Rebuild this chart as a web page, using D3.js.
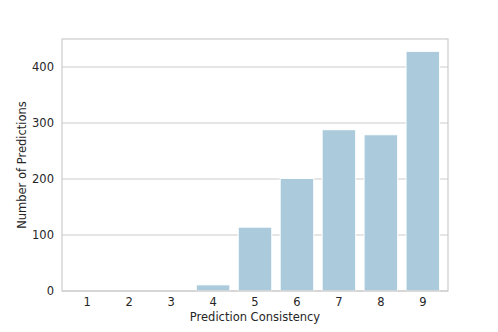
<!DOCTYPE html>
<html>
<head>
<meta charset="utf-8">
<script src="https://cdn.jsdelivr.net/npm/d3@7"></script>
<style>
  body { margin: 0; background: #fff; }
  text { font-family: "DejaVu Sans", sans-serif; fill: #262626; }
</style>
</head>
<body>
<script>
var categories = ["1", "2", "3", "4", "5", "6", "7", "8", "9"];
var counts = [0, 0, 0, 11, 114, 201, 288, 279, 428];
var yTicks = [0, 100, 200, 300, 400];

var W = 498, H = 332;
var m = { left: 62, right: 50, top: 39, bottom: 41 };
var iw = W - m.left - m.right, ih = H - m.top - m.bottom;

var svg = d3.select("body").append("svg")
  .attr("width", W).attr("height", H);
var g = svg.append("g").attr("transform", "translate(" + m.left + "," + m.top + ")");

var x = d3.scaleBand().domain(categories).range([0, iw]).padding(0.2);
var y = d3.scaleLinear().domain([0, 450]).range([ih, 0]);

// grid
g.selectAll(".grid").data(yTicks).enter().append("line")
  .attr("x1", 0).attr("x2", iw)
  .attr("y1", function(d) { return y(d); }).attr("y2", function(d) { return y(d); })
  .attr("stroke", "#cccccc").attr("stroke-width", 1);

// bars
g.selectAll(".bar").data(counts).enter().append("rect")
  .attr("x", function(d, i) { return x(categories[i]); })
  .attr("width", x.bandwidth())
  .attr("y", function(d) { return y(d); })
  .attr("height", function(d) { return ih - y(d); })
  .attr("fill", "#abcbdd")
  .attr("stroke", "#ffffff").attr("stroke-width", 1);

// frame
g.append("rect").attr("x", 0).attr("y", 0).attr("width", iw).attr("height", ih)
  .attr("fill", "none").attr("stroke", "#cccccc").attr("stroke-width", 1.2);

// tick labels
g.selectAll(".yl").data(yTicks).enter().append("text")
  .attr("x", -8).attr("y", function(d) { return y(d); }).attr("dy", "0.35em")
  .attr("text-anchor", "end").style("font-size", "11.5px")
  .text(function(d) { return d; });

g.selectAll(".xl").data(categories).enter().append("text")
  .attr("x", function(d) { return x(d) + x.bandwidth() / 2; })
  .attr("y", ih + 15).attr("text-anchor", "middle").style("font-size", "11.5px")
  .text(function(d) { return d; });

// axis titles
g.append("text").attr("x", iw / 2).attr("y", ih + 30)
  .attr("text-anchor", "middle").style("font-size", "11.5px")
  .text("Prediction Consistency");

g.append("text").attr("transform", "translate(-36," + (ih / 2) + ") rotate(-90)")
  .attr("text-anchor", "middle").style("font-size", "11.5px")
  .text("Number of Predictions");
</script>
</body>
</html>
